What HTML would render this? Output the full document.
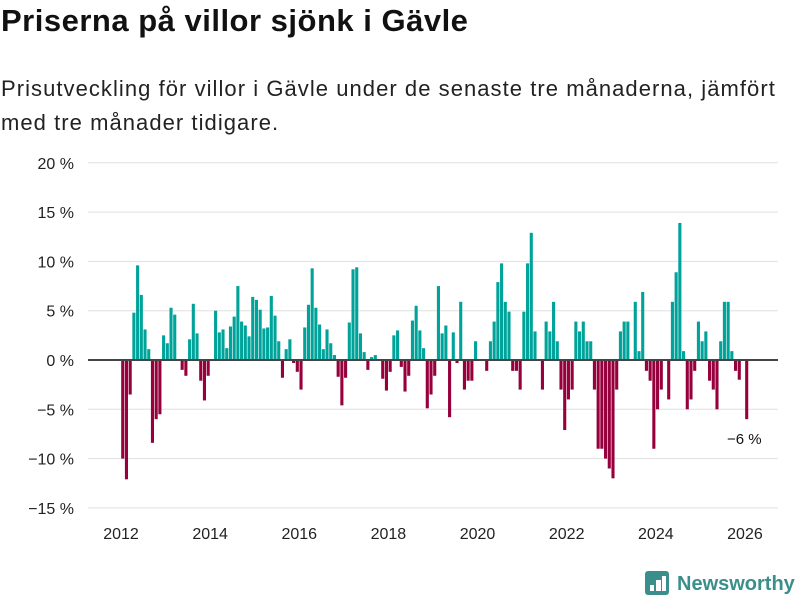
<!DOCTYPE html>
<html><head><meta charset="utf-8">
<style>
body{margin:0;width:800px;height:600px;background:#fff;overflow:hidden;font-family:"Liberation Sans",sans-serif;color:#111}
#title{position:absolute;left:1px;top:3px;font-size:31px;font-weight:bold;margin:0;letter-spacing:0.5px}
#sub{position:absolute;left:1px;top:72px;font-size:22px;line-height:34px;width:800px;color:#222;letter-spacing:1.05px;white-space:nowrap}
svg{position:absolute;left:0;top:0}
</style></head><body>
<h1 id="title">Priserna på villor sjönk i Gävle</h1>
<div id="sub">Prisutveckling för villor i Gävle under de senaste tre månaderna, jämfört<br>med tre månader tidigare.</div>
<svg id="chart" width="800" height="600"></svg>
<script>
const values=[-10,-12.1,-3.5,4.8,9.6,6.6,3.1,1.1,-8.4,-6,-5.5,2.5,1.7,5.3,4.6,0,-1,-1.6,2.1,5.7,2.7,-2.1,-4.1,-1.6,0,5.0,2.8,3.1,1.2,3.4,4.4,7.5,3.9,3.5,2.4,6.4,6.1,5.1,3.2,3.3,6.5,4.5,1.9,-1.8,1.1,2.1,-0.3,-1.2,-3.0,3.3,5.6,9.3,5.3,3.6,1.1,3.1,1.7,0.5,-1.7,-4.6,-1.8,3.8,9.2,9.4,2.7,0.8,-1.0,0.3,0.5,0,-1.9,-3.1,-1.2,2.5,3.0,-0.7,-3.2,-1.6,4.0,5.5,3.0,1.2,-4.9,-3.5,-1.6,7.5,2.7,3.5,-5.8,2.8,-0.3,5.9,-3.0,-2.1,-2.1,1.9,0,0,-1.1,1.9,3.9,7.9,9.8,5.9,4.9,-1.1,-1.1,-3.0,4.9,9.8,12.9,2.9,0,-3.0,3.9,2.9,5.9,1.9,-3.0,-7.1,-4.0,-3.0,3.9,2.9,3.9,1.9,1.9,-3.0,-9.0,-9.0,-10.0,-11.0,-12.0,-3.0,2.9,3.9,3.9,0,5.9,0.9,6.9,-1.1,-2.1,-9.0,-5.0,-3.0,0,-4.0,5.9,8.9,13.9,0.9,-5.0,-4.0,-1.1,3.9,1.9,2.9,-2.1,-3.0,-5.0,1.9,5.9,5.9,0.9,-1.1,-2.0,0,-6.0];
const yTicks=[20,15,10,5,0,-5,-10,-15];
const xYears=[2012,2014,2016,2018,2020,2022,2024,2026];
const startYear=2012;
const NS="http://www.w3.org/2000/svg";
const svg=document.getElementById('chart');
const x=m=>121+m*3.714;
const y=v=>360-v*9.86;
function mk(t,a){const e=document.createElementNS(NS,t);for(const k in a)e.setAttribute(k,a[k]);svg.appendChild(e);return e;}
yTicks.forEach(v=>{
  const g=mk('line',{x1:88,x2:778,y1:y(v),y2:y(v),stroke:'#e0e0e0','stroke-width':1});
  
  
  const t=mk('text',{x:74,y:y(v)+6,'text-anchor':'end','font-size':16,fill:'#222','font-family':'Liberation Sans'});
  t.textContent=(v<0?'\u2212'+(-v):v)+' %';
  
  
});
xYears.forEach(yr=>{
  const t=mk('text',{x:x((yr-startYear)*12),y:539,'text-anchor':'middle','font-size':16,fill:'#222','font-family':'Liberation Sans'});
  t.textContent=yr;
  
  
});
values.forEach((v,i)=>{
  const r=mk('rect',{x:x(i)+0.2,width:3.1,y:Math.min(y(v),y(0)),height:Math.abs(y(v)-y(0)),fill:v>=0?'#00a39a':'#96003c'});
  
  
});
const z=mk('line',{x1:88,x2:778,y1:y(0),y2:y(0),stroke:'#444','stroke-width':2});


const last=values[values.length-1];
const lab=mk('text',{x:x(values.length-1)-18,y:y(last)+25,'font-size':15,fill:'#111','font-family':'Liberation Sans'});
lab.textContent='\u2212'+Math.round(-last)+' %';


const logo=mk('rect',{x:645,y:571,width:24,height:24,rx:3,fill:'#3b8f8a'});


[[650,585,4],[656,580,5],[662,576,4]].forEach(b=>{mk('rect',{x:b[0],y:b[1],width:b[2],height:595-b[1]-4,fill:'#fff'});});
const lt=mk('text',{x:677,y:590,'font-size':20,'font-weight':'bold',fill:'#3b8f8a','font-family':'Liberation Sans'});
lt.textContent='Newsworthy';


</script>
</body></html>
